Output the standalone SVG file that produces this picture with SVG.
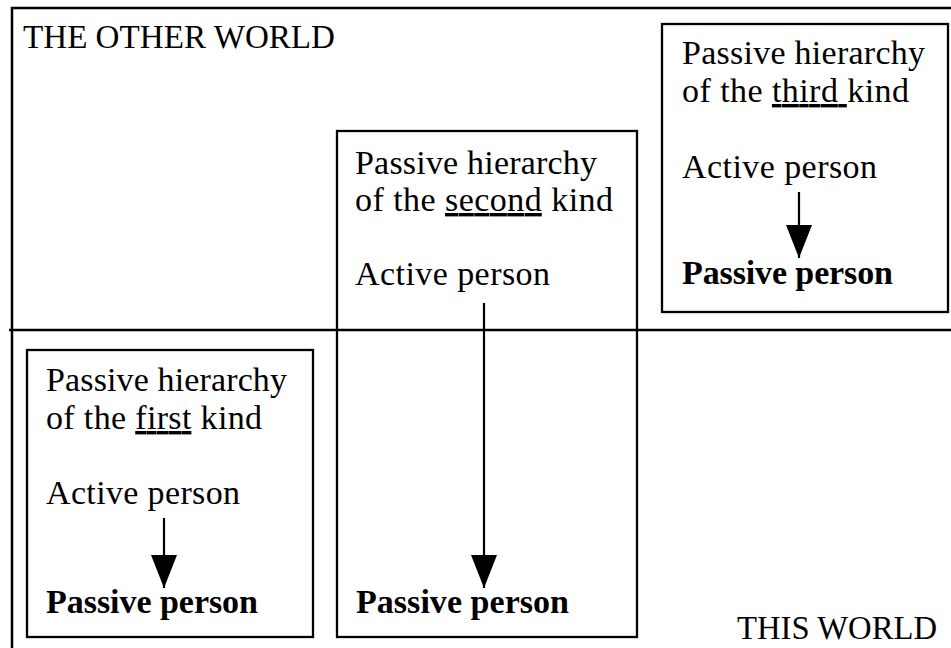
<svg xmlns="http://www.w3.org/2000/svg" width="951" height="648" viewBox="0 0 951 648">
  <style>
    .frame { fill: none; stroke: #000; stroke-width: 2.5; }
    .box { fill: none; stroke: #000; stroke-width: 2.3; }
    .t { font-family: "Liberation Serif", "Times New Roman", serif; font-size: 34px; fill: #000; }
    .b { font-weight: bold; }
    .u { text-decoration: underline; text-decoration-skip-ink: none; }
    .arrow { stroke: #000; stroke-width: 2.2; fill: none; marker-end: url(#head); }
  </style>
  <defs>
    <marker id="head" viewBox="0 0 33 26" refX="33" refY="13" markerUnits="userSpaceOnUse" markerWidth="33" markerHeight="26" orient="auto">
      <path d="M0,0 L33,13 L0,26 Z" fill="#000"/>
    </marker>
  </defs>

  <!-- outer world frame and the divider between the two worlds -->
  <g id="worlds">
    <path class="frame" d="M12,648 V8 H951"/>
    <path class="frame" d="M9,330 H951"/>
    <text class="t" x="23" y="48" textLength="312" lengthAdjust="spacingAndGlyphs">THE OTHER WORLD</text>
    <text class="t" x="737" y="639" textLength="200" lengthAdjust="spacingAndGlyphs">THIS WORLD</text>
  </g>

  <!-- first kind: lies entirely in this world -->
  <g id="first-kind">
    <rect class="box" x="27" y="350" width="286" height="287"/>
    <text class="t" x="46" y="391" textLength="241" lengthAdjust="spacing">Passive hierarchy</text>
    <text class="t" x="46" y="429" textLength="216" lengthAdjust="spacing">of the <tspan class="u">first</tspan> kind</text>
    <text class="t" x="46" y="504" textLength="194" lengthAdjust="spacing">Active person</text>
    <text class="t b" x="46" y="613" textLength="212" lengthAdjust="spacing">Passive person</text>
  </g>

  <!-- second kind: spans both worlds -->
  <g id="second-kind">
    <rect class="box" x="337" y="131" width="300" height="506"/>
    <text class="t" x="355" y="174" textLength="242" lengthAdjust="spacing">Passive hierarchy</text>
    <text class="t" x="355" y="211" textLength="258" lengthAdjust="spacing">of the <tspan class="u">second</tspan> kind</text>
    <text class="t" x="355" y="285" textLength="195" lengthAdjust="spacing">Active person</text>
    <text class="t b" x="356" y="613" textLength="213" lengthAdjust="spacing">Passive person</text>
  </g>

  <!-- third kind: lies entirely in the other world -->
  <g id="third-kind">
    <rect class="box" x="662" y="24" width="286" height="288"/>
    <text class="t" x="682" y="64" textLength="243" lengthAdjust="spacing">Passive hierarchy</text>
    <text class="t" x="682" y="102" textLength="227" lengthAdjust="spacing">of the <tspan class="u">third </tspan>kind</text>
    <text class="t" x="682" y="178" textLength="195" lengthAdjust="spacing">Active person</text>
    <text class="t b" x="682" y="284" textLength="211" lengthAdjust="spacing">Passive person</text>
  </g>

  <!-- active person to passive person -->
  <g id="connectors">
    <line class="arrow" x1="164" y1="518" x2="164" y2="588"/>
    <line class="arrow" x1="484" y1="303" x2="484" y2="588"/>
    <line class="arrow" x1="799" y1="192" x2="799" y2="258"/>
  </g>
</svg>
